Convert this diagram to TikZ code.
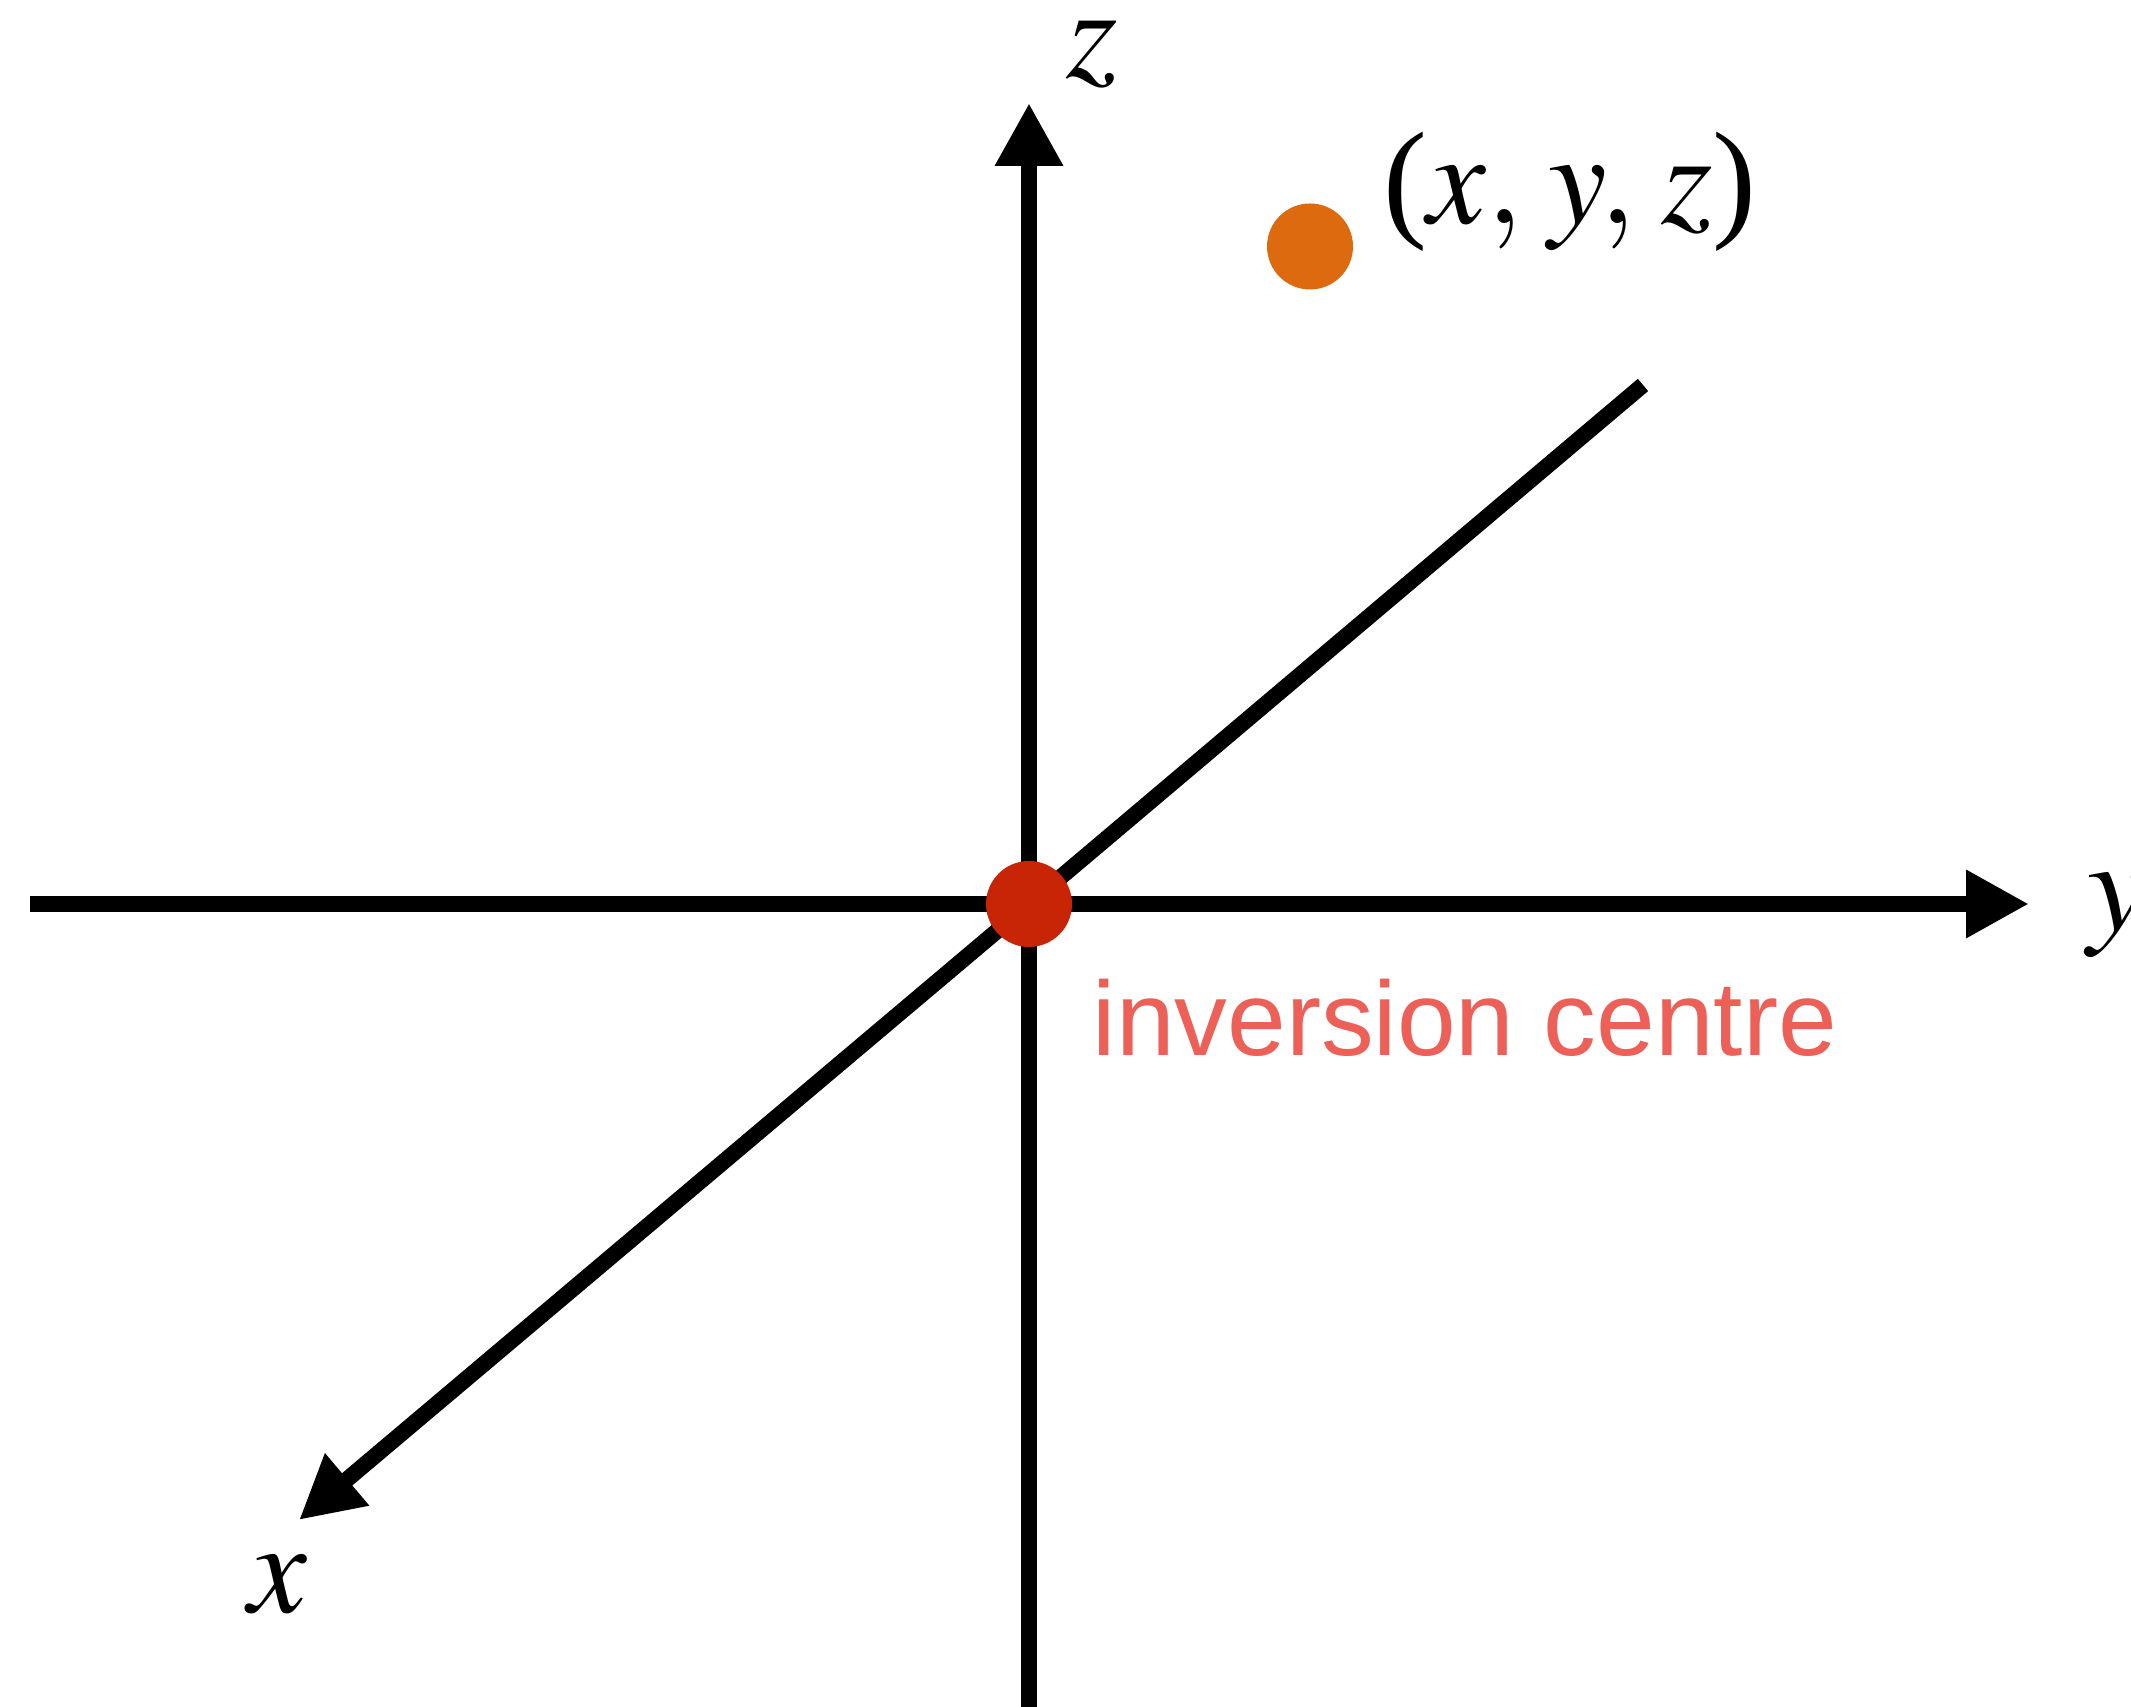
\documentclass[tikz,border=0pt]{standalone}
\usepackage{mathptmx}
\usepackage{fontspec}
\setmainfont{Liberation Serif}
\setsansfont{Liberation Sans}
\usetikzlibrary{arrows.meta}
\definecolor{centrered}{RGB}{200,36,6}
\definecolor{pointorange}{RGB}{222,106,16}
\definecolor{labelred}{RGB}{236,96,88}

\begin{document}
\begin{tikzpicture}[axis/.style={line width=0.16cm},
  dot/.style={circle, inner sep=0pt, minimum size=0.86cm},
  lbl/.style={font=\fontsize{37.5}{40}\selectfont, inner sep=0pt},
  >={Triangle[length=0.63cm, width=0.64cm]}]
  \useasboundingbox (0,0) rectangle (21.31,17.07);
  \coordinate (o) at (10.29,8.03);
  \coordinate (zt) at (10.29,16.04);
  \coordinate (zb) at (10.29,0);
  \coordinate (yl) at (0.30,8.03);
  \coordinate (yt) at (20.29,8.03);
  \coordinate (xe) at (16.43,13.22);
  \coordinate (xt) at (2.99,1.87);
  \draw[axis] (xe)--(o);
  \draw[axis,->] (o)--(xt);
  \draw[axis,->] (zb)--(zt);
  \draw[axis,->] (yl)--(yt);
  \node[dot, fill=centrered] (c) at (o) {};
  \node[dot, fill=pointorange] (p) at (13.10,14.605) {};
  \node[lbl, anchor=base] (plbl) at (15.70,14.83)
    {($x,\mskip1.5mu y,\mskip1.5mu z$)};
  \node[lbl] (zlbl) at (10.92,16.53) {$z$};
  \node[lbl, anchor=west] (ylbl) at (20.87,7.92) {$y$};
  \node[lbl] (xlbl) at (2.78,1.22) {$x$};
  \node[inner sep=0pt, anchor=base west, text=labelred,
    font=\sffamily\fontsize{30}{32}\selectfont] (clbl) at (10.92,6.51) {inversion centre};
\end{tikzpicture}
\end{document}
